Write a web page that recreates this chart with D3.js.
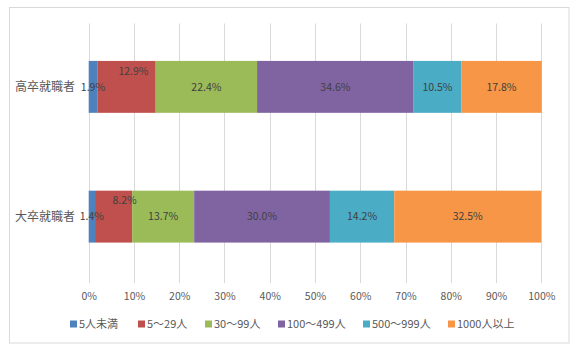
<!DOCTYPE html>
<html><head><meta charset="utf-8">
<script src="https://cdn.jsdelivr.net/npm/d3@7"></script>
<style>
html,body{margin:0;padding:0;background:#fff;}
svg{display:block;font-family:"Noto Sans CJK JP","Noto Sans",sans-serif;}
</style></head>
<body><svg id="c" width="580" height="358"></svg>
<script>
const categories = ["高卒就職者", "大卒就職者"];
const seriesNames = ["5人未満", "5〜29人", "30〜99人", "100〜499人", "500〜999人", "1000人以上"];
const seriesColors = ["#4F81BD", "#C0504D", "#9BBB59", "#8064A2", "#4BACC6", "#F79646"];
const highSchool = [1.9, 12.9, 22.4, 34.6, 10.5, 17.8];
const university = [1.4, 8.2, 13.7, 30.0, 14.2, 32.5];
const tickValues = [0, 10, 20, 30, 40, 50, 60, 70, 80, 90, 100];

const values = [highSchool, university];
const svg = d3.select("#c");

// outer frame
svg.append("rect").attr("x", 9.5).attr("y", 7.5).attr("width", 559.5).attr("height", 335.5)
  .attr("fill", "#fff").attr("stroke", "#d9d9d9").attr("stroke-width", 1);

const x = d3.scaleLinear().domain([0, 100]).range([88.7, 541.3]);
const y = d3.scaleBand().domain(categories).range([22, 281.5]).paddingInner(0.6).paddingOuter(0.3);

// gridlines
svg.append("g").selectAll("line").data(tickValues).join("line")
  .attr("x1", d => Math.round(x(d)) + 0.5).attr("x2", d => Math.round(x(d)) + 0.5)
  .attr("y1", 23.5).attr("y2", 283)
  .attr("stroke", "#d9d9d9").attr("stroke-width", 1);

// stacked data
const rows = categories.map((c, i) => {
  let acc = 0;
  return values[i].map((v, j) => { const s = acc; acc += v; return {cat: c, ci: i, si: j, v, x0: s, x1: acc}; });
});

const g = svg.append("g");
rows.forEach(r => {
  g.selectAll(null).data(r).join("rect")
    .attr("x", d => x(d.x0)).attr("width", d => x(d.x1) - x(d.x0))
    .attr("y", d => y(d.cat)).attr("height", y.bandwidth())
    .attr("fill", d => seriesColors[d.si]);
});

// data labels (small second segment labels nudged up as in original)
rows.forEach(r => {
  g.selectAll(null).data(r).join("text")
    .attr("x", d => {
      const cx = (x(d.x0) + x(d.x1)) / 2;
      return d.si === 1 ? cx + (d.ci === 0 ? 7 : 11) : cx;
    })
    .attr("y", d => y(d.cat) + y.bandwidth() / 2 + (d.si === 1 ? -16 : 0))
    .attr("dy", "0.35em").attr("text-anchor", "middle")
    .attr("font-size", "10.5px").attr("fill", "#404040")
    .text(d => d.v.toFixed(1) + "%");
});

// category labels
svg.append("g").selectAll("text").data(categories).join("text")
  .attr("x", 75).attr("y", d => y(d) + y.bandwidth() / 2).attr("dy", "0.35em")
  .attr("text-anchor", "end").attr("font-size", "12px").attr("fill", "#595959")
  .text(d => d);

// x axis labels
const xAxis = d3.axisBottom(x).tickValues(tickValues).tickFormat(d => d + "%").tickSize(0);
const ax = svg.append("g").attr("transform", "translate(0,290)").call(xAxis);
ax.select(".domain").remove();
ax.selectAll("text").attr("font-size", "10.5px").attr("fill", "#595959")
  .attr("font-family", "\"Noto Sans CJK JP\",sans-serif");

// legend
const legendX = [70, 138, 205, 278, 363, 448];
const lg = svg.append("g").selectAll("g").data(seriesNames).join("g")
  .attr("transform", (d, i) => `translate(${legendX[i]},324)`);
lg.append("rect").attr("x", 0).attr("y", -3.5).attr("width", 7).attr("height", 7)
  .attr("fill", (d, i) => seriesColors[i]);
lg.append("text").attr("x", 9).attr("y", 0).attr("dy", "0.35em")
  .attr("font-size", "11px").attr("fill", "#595959").text(d => d);
</script>
</body></html>
